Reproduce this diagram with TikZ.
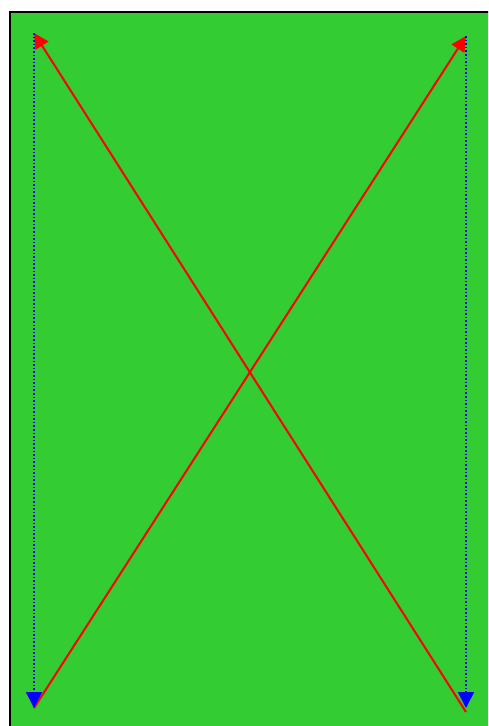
\documentclass[tikz,border=0pt]{standalone}
\usetikzlibrary{arrows.meta}
\definecolor{fieldgreen}{HTML}{33CC33}
\tikzset{
  redline/.style={draw=red, line width=2pt, -{Triangle[length=15pt,width=15pt]}},
  blueline/.style={draw=blue, line width=1.6pt, dotted, -{Triangle[length=16pt,width=16pt]}}
}
\begin{document}
\begin{tikzpicture}[x=1pt,y=-1pt]
\useasboundingbox (0,0) rectangle (488,726);
\begin{scope}
\clip (0,0) rectangle (488,726);
\fill[white] (0,0) rectangle (488,726);
\draw[black, line width=2pt, fill=fieldgreen] (10,12) rectangle (500,740);
\end{scope}
\coordinate (tl) at (34,33);
\coordinate (tr) at (466,36);
\coordinate (bl) at (34,708);
\coordinate (br) at (466,712);
\coordinate (brb) at (466,708);
\draw[redline] (br) -- (tl);
\draw[redline] (bl) -- (tr);
\draw[blueline] (tl) -- (bl);
\draw[blueline] (tr) -- (brb);
\end{tikzpicture}
\end{document}
